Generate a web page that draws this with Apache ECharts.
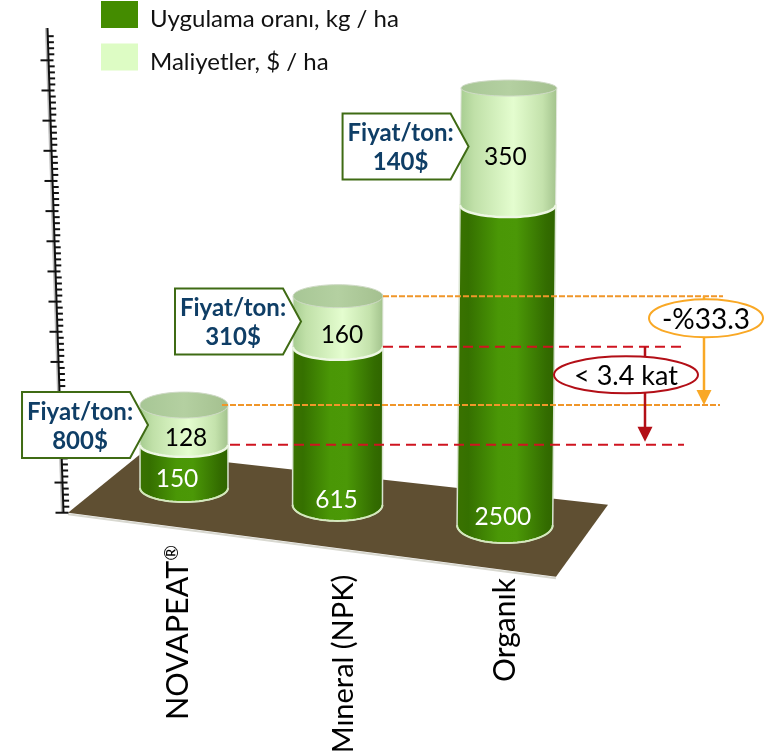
<!DOCTYPE html>
<html><head><meta charset="utf-8">
<style>html,body{margin:0;padding:0;background:#fff}#c{width:764px;height:756px}</style>
<script src="https://cdn.jsdelivr.net/npm/echarts@6/dist/echarts.min.js"></script>
</head><body><div id="c"></div>
<script>
// Values printed on the chart
const categories = ['NOVAPEAT®', 'Mıneral (NPK)', 'Organık'];
const rateValues = [150, 615, 2500];
const costValues = [128, 160, 350];
const pricePerTon = ['800$', '310$', '140$'];
const rateName = 'Uygulama oranı, kg / ha';
const costName = 'Maliyetler, $ / ha';
const ratioLabels = ['-%33.3', '< 3.4 kat'];
const baseLevels = [0.82, 0.26, -0.41];
const rateLevels = [2.25, 5.5, 10.2];
const costLevels = [3.57, 7.18, 14.08];

const FONT = 'Lato';
// perspective of the drawing, per column
const P = {
  dx: [0, -7, 0], lean: [0, 0.07, 0.28], half: [0.274, 0.28, 0.298],
  ryBase: [14, 16, 18], ryMid: [12, 13, 12], ryCap: [13, 11.5, 8],
  rateText: [[-7, -9], [-1, -5], [-2, -8]], costText: [[2, 13], [4, 14], [-3, 11]],
  catText: [[-6, 57], [6, 70], [0, 53]], catSize: [30.5, 29, 30]
};
const G = echarts.graphic.LinearGradient;
const sideGreen = () => new G(0, 0, 1, 0, [{offset:0,color:'#3a7200'},{offset:.12,color:'#357000'},{offset:.42,color:'#4a9706'},{offset:.6,color:'#4b9807'},{offset:.9,color:'#336c00'},{offset:1,color:'#2f6400'}]);
const sideLight = () => new G(0, 0, 1, 0, [{offset:0,color:'#a6cc90'},{offset:.15,color:'#c0e0a8'},{offset:.55,color:'#e4fdcf'},{offset:.85,color:'#c4e2ac'},{offset:1,color:'#a2c28c'}]);
const capFill = () => new G(0, 0, 1, 0, [{offset:0,color:'#a7c695'},{offset:.5,color:'#b4d0a1'},{offset:1,color:'#a4c08f'}]);

function arc(cx, cy, rx, ry, from, to) {
  const pts = [];
  for (let i = 0; i <= 36; i++) {
    const a = from + (to - from) * i / 36;
    pts.push([cx + rx * Math.cos(a), cy + ry * Math.sin(a)]);
  }
  return pts;
}
function geom(api, i) {
  const band = api.size([1, 0])[0];
  const x = api.coord([i, 0])[0] + P.dx[i];
  const rx = band * P.half[i];
  const at = v => [x + P.lean[i] * v, api.coord([i, v])[1]];
  return { rx, at };
}
function rateItem(params, api) {
  const i = params.dataIndex, g = geom(api, i);
  const b = g.at(baseLevels[i]), t = g.at(rateLevels[i]);
  const bottom = arc(b[0], b[1], g.rx, P.ryBase[i], Math.PI, 0);
  const body = [[t[0] - g.rx, t[1]], [t[0] + g.rx, t[1]]].concat(bottom.reverse());
  const rim = arc(b[0], b[1], g.rx, P.ryBase[i], Math.PI, 0);
  const tx = P.rateText[i];
  return { type: 'group', children: [
    { type: 'polygon', shape: { points: body }, style: { fill: sideGreen(), stroke: '#d9e4d0', lineWidth: 1.5 } },
    { type: 'polyline', shape: { points: rim }, style: { fill: null, stroke: '#d4e8bc', lineWidth: 2 } },
    { type: 'text', x: b[0] + tx[0], y: b[1] + tx[1], style: { text: String(rateValues[i]), fontFamily: FONT, fontSize: 24.5, fill: '#fff', align: 'center', verticalAlign: 'middle' } }
  ]};
}
function costItem(params, api) {
  const i = params.dataIndex, g = geom(api, i);
  const b = g.at(rateLevels[i]), t = g.at(costLevels[i]);
  const bottom = arc(b[0], b[1], g.rx, P.ryMid[i], 0, Math.PI);
  const body = [[t[0] - g.rx, t[1]], [t[0] + g.rx, t[1]]].concat(bottom);
  const mid = (b[1] + t[1]) / 2;
  const tx = P.costText[i];
  return { type: 'group', children: [
    { type: 'polygon', shape: { points: body }, style: { fill: sideLight(), stroke: '#e2e8dc', lineWidth: 1 } },
    { type: 'polyline', shape: { points: bottom }, style: { fill: null, stroke: '#eef7e4', lineWidth: 2.5 } },
    { type: 'ellipse', shape: { cx: t[0], cy: t[1], rx: g.rx, ry: P.ryCap[i] }, style: { fill: capFill(), stroke: '#cfdac6', lineWidth: 1 } },
    { type: 'text', x: b[0] + tx[0] + (t[0] - b[0]) / 2, y: mid + tx[1], style: { text: String(costValues[i]), fontFamily: FONT, fontSize: 24.5, fill: '#000', align: 'center', verticalAlign: 'middle' } }
  ]};
}
function calloutItem(params, api) {
  const i = params.dataIndex, g = geom(api, i);
  const m = g.at((rateLevels[i] + costLevels[i]) / 2);
  const tx = m[0] - g.rx + 8, ty = m[1];
  const L = tx - 126, S = tx - 18;
  return { type: 'group', children: [
    { type: 'polygon', shape: { points: [[L, ty - 33], [S, ty - 33], [tx, ty], [S, ty + 33], [L, ty + 33]] }, style: { fill: '#fff', stroke: '#3f6b14', lineWidth: 2 } },
    { type: 'text', x: tx - 68, y: ty - 13, style: { text: 'Fiyat/ton:', fontFamily: FONT, fontWeight: 'bold', fontSize: 24, fill: '#0f3e66', align: 'center', verticalAlign: 'middle' } },
    { type: 'text', x: tx - 68, y: ty + 16, style: { text: pricePerTon[i], fontFamily: FONT, fontWeight: 'bold', fontSize: 24, fill: '#0f3e66', align: 'center', verticalAlign: 'middle' } }
  ]};
}
function categoryItem(params, api) {
  const i = params.dataIndex;
  const p = api.coord([i, baseLevels[i]]);
  const o = P.catText[i];
  return { type: 'text', x: p[0] + P.dx[i] + o[0], y: p[1] + o[1], rotation: Math.PI / 2,
    style: { text: categories[i].replace('®', '{r|®}'), fontFamily: FONT, fontSize: P.catSize[i], fill: '#000', align: 'right', verticalAlign: 'middle',
      rich: { r: { fontFamily: FONT, fontSize: 19, fill: '#000', verticalAlign: 'top' } } } };
}
function axisItem(params, api) {
  const x0 = api.coord([0, 0])[0];
  const X = v => x0 - 120.5 - v;
  const Y = v => api.coord([0, v])[1];
  const kids = [
    { type: 'line', shape: { x1: X(16) - 1.5, y1: Y(16.07), x2: X(0) - 1.5, y2: Y(0) }, style: { stroke: '#bbb', lineWidth: 2 } },
    { type: 'line', shape: { x1: X(16), y1: Y(16.07), x2: X(0), y2: Y(0) }, style: { stroke: '#111', lineWidth: 2 } }
  ];
  for (let k = 0; k < 80; k++) {
    const v = k / 5, major = k % 5 === 0;
    kids.push({ type: 'line', shape: { x1: X(v) + (major ? -8 : 0), y1: Y(v), x2: X(v) + (major ? 5 : 6), y2: Y(v) }, style: { stroke: '#111', lineWidth: 2 } });
  }
  return { type: 'group', children: kids };
}
function annotationItem(params, api) {
  const x0 = api.coord([2, 0])[0];
  const Y = v => api.coord([2, v])[1];
  const L = (v, x1, x2, c, d) => ({ type: 'line', shape: { x1, y1: Y(v), x2, y2: Y(v) }, style: { stroke: c, lineWidth: 2, lineDash: d } });
  const ORANGE = '#f0962a', RED = '#cf1420', DRED = '#b30f17', AMBER = '#f9a825';
  const ox = x0 + 199, rx = x0 + 140;
  const yo1 = Y(costLevels[1]), yo0 = Y(costLevels[0]), yr1 = Y(rateLevels[1]), yr0 = Y(rateLevels[0]);
  const arrow = (x, y1, y2, c) => [
    { type: 'line', shape: { x1: x, y1, x2: x, y2: y2 - 12 }, style: { stroke: c, lineWidth: 2.5 } },
    { type: 'polygon', shape: { points: [[x - 7.5, y2 - 15], [x + 7.5, y2 - 15], [x, y2]] }, style: { fill: c } }
  ];
  return { type: 'group', children: [
    L(costLevels[1], x0 - 122, x0 + 218, ORANGE, [6, 2]),
    L(costLevels[0], x0 - 283, x0 + 215, ORANGE, [6, 2]),
    L(rateLevels[1], x0 - 122, x0 + 179, RED, [10, 6]),
    L(rateLevels[0], x0 - 275, x0 + 179, RED, [10, 6])
  ].concat(arrow(ox, yo1, yo0, AMBER), arrow(rx, yr1, yr0 - 3, DRED), [
    { type: 'ellipse', shape: { cx: x0 + 201, cy: yo1 + 22, rx: 57, ry: 19 }, style: { fill: '#fff', stroke: AMBER, lineWidth: 2 } },
    { type: 'text', x: x0 + 201, y: yo1 + 24, style: { text: ratioLabels[0], fontFamily: FONT, fontSize: 28, fill: '#000', align: 'center', verticalAlign: 'middle' } },
    { type: 'ellipse', shape: { cx: x0 + 121, cy: yr1 + 28, rx: 72, ry: 18.5 }, style: { fill: '#fff', stroke: DRED, lineWidth: 2 } },
    { type: 'text', x: x0 + 121, y: yr1 + 29, style: { text: ratioLabels[1], fontFamily: FONT, fontSize: 27, fill: '#000', align: 'center', verticalAlign: 'middle' } }
  ])};
}
function floorItem(params, api) {
  const x0 = api.coord([0, 0])[0], y0 = api.coord([0, 0])[1];
  const pts = [[-116, 0], [-42, -60], [424, -8], [372, 64]].map(p => [x0 + p[0], y0 + p[1]]);
  return { type: 'group', children: [
    { type: 'polyline', shape: { points: [[pts[0][0], pts[0][1] + 1.5], [pts[3][0], pts[3][1] + 1.5]] }, style: { fill: null, stroke: '#d8d8d0', lineWidth: 2 } },
    { type: 'polygon', shape: { points: pts }, style: { fill: '#5f4f32' } }
  ]};
}
const idx = categories.map((c, i) => i);
const single = [0];
const chart = echarts.init(document.getElementById('c'), null, { renderer: 'canvas' });
chart.setOption({
  animation: false,
  backgroundColor: '#fff',
  legend: {
    orient: 'vertical', left: 101, top: 1, padding: 0, itemWidth: 37, itemHeight: 27, itemGap: 12,
    icon: 'rect', selectedMode: false, data: [rateName, costName],
    formatter: n => '{t|' + n + '}',
    textStyle: { rich: { t: { fontFamily: FONT, fontSize: 24, color: '#111', padding: [10, 0, 0, 7] } } }
  },
  grid: { left: 103.75, width: 481.5, top: 0, height: 754 },
  xAxis: { type: 'category', data: categories, show: false },
  yAxis: { type: 'value', min: -8, max: 17, show: false },
  series: [
    { type: 'custom', name: 'floor', silent: true, z: 1, data: single, renderItem: floorItem },
    { type: 'custom', name: 'axis', silent: true, z: 2, data: single, renderItem: axisItem },
    { type: 'custom', name: rateName, z: 3, itemStyle: { color: '#448c00' }, data: idx, renderItem: rateItem },
    { type: 'custom', name: costName, z: 4, itemStyle: { color: '#ddfcc4' }, data: idx, renderItem: costItem },
    { type: 'custom', name: 'refs', silent: true, z: 5, data: single, renderItem: annotationItem },
    { type: 'custom', name: 'price', silent: true, z: 6, data: idx, renderItem: calloutItem },
    { type: 'custom', name: 'cats', silent: true, z: 6, data: idx, renderItem: categoryItem }
  ]
});
</script></body></html>
